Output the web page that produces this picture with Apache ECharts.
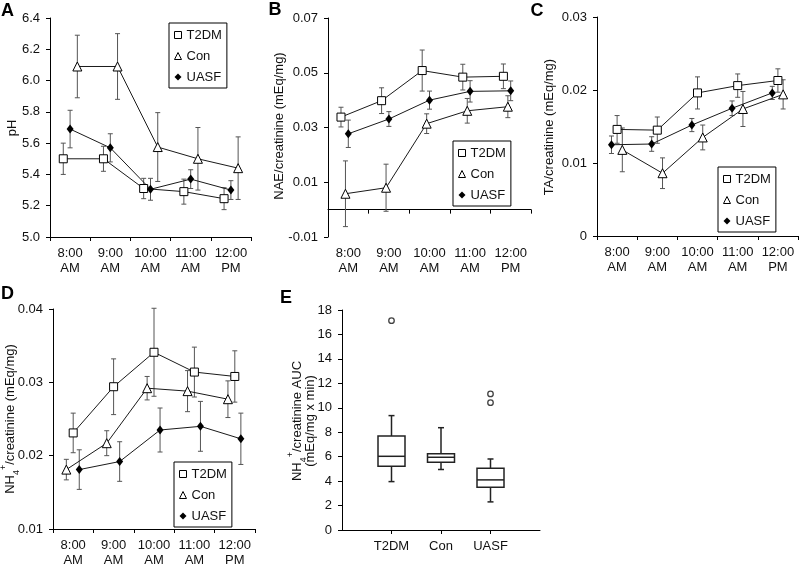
<!DOCTYPE html>
<html><head><meta charset="utf-8">
<script src="https://cdn.jsdelivr.net/npm/echarts@6/dist/echarts.min.js"></script>
<style>html,body{margin:0;padding:0;background:#fff}#c{width:799px;height:565px}</style>
</head><body><div id="c"></div>
<script>
// ---------- data ----------
const timeLabels = ['8:00\nAM', '9:00\nAM', '10:00\nAM', '11:00\nAM', '12:00\nPM'];
const groups = ['T2DM', 'Con', 'UASF'];

// A: urine pH (mean, SE)
const phT2DM = [5.50, 5.50, 5.31, 5.29, 5.245];
const phT2DMErr = [0.10, 0.08, 0.065, 0.08, 0.07];
const phCon = [6.09, 6.09, 5.575, 5.50, 5.44];
const phConErr = [0.20, 0.21, 0.22, 0.20, 0.20];
const phUASF = [5.69, 5.57, 5.305, 5.37, 5.30];
const phUASFErr = [0.12, 0.09, 0.07, 0.06, 0.06];

// B: NAE/creatinine
const naeT2DM = [0.0338, 0.0398, 0.0508, 0.0484, 0.0487];
const naeT2DMErr = [0.0036, 0.0047, 0.0075, 0.0047, 0.0045];
const naeCon = [0.0058, 0.0080, 0.0314, 0.0361, 0.0376];
const naeConErr = [0.0120, 0.0086, 0.0036, 0.0045, 0.0040];
const naeUASF = [0.0277, 0.0331, 0.0400, 0.0432, 0.0434];
const naeUASFErr = [0.0050, 0.0027, 0.0033, 0.0039, 0.0036];

// C: TA/creatinine
const taT2DM = [0.0146, 0.0145, 0.0196, 0.0206, 0.0213];
const taT2DMErr = [0.0019, 0.0018, 0.0022, 0.0016, 0.0016];
const taCon = [0.0118, 0.0086, 0.0135, 0.0174, 0.0194];
const taConErr = [0.0030, 0.0021, 0.0017, 0.0024, 0.0020];
const taUASF = [0.0125, 0.0126, 0.0152, 0.0175, 0.0196];
const taUASFErr = [0.0012, 0.0010, 0.0009, 0.0010, 0.0009];

// D: NH4+/creatinine
const nhT2DM = [0.0231, 0.0294, 0.0341, 0.0314, 0.0308];
const nhT2DMErr = [0.0027, 0.0038, 0.0060, 0.0034, 0.0035];
const nhCon = [0.0181, 0.0217, 0.0292, 0.0288, 0.0277];
const nhConErr = [0.0014, 0.0017, 0.0016, 0.0028, 0.0025];
const nhUASF = [0.0181, 0.0192, 0.0235, 0.0240, 0.0223];
const nhUASFErr = [0.0027, 0.0027, 0.0030, 0.0034, 0.0035];

// E: NH4+/creatinine AUC box plots [min, Q1, median, Q3, max]
const boxCategories = ['', 'T2DM', 'Con', 'UASF', ''];
const aucT2DM = [3.96, 5.21, 6.03, 7.69, 9.36];
const aucCon = [4.95, 5.54, 5.95, 6.24, 8.37];
const aucUASF = [2.30, 3.50, 4.10, 5.05, 5.81];
const aucT2DMOutliers = [17.13];
const aucConOutliers = [];
const aucUASFOutliers = [10.42, 11.13];

// ---------- styling ----------
const FONT = '"Liberation Sans", Arial, Helvetica, sans-serif';
const INK = '#111';
const groupStyle = {
  T2DM: { symbol: 'rect', size: 8, fill: '#fff', bw: 1 },
  Con: { symbol: 'triangle', size: 9, fill: '#fff', bw: 1 },
  UASF: { symbol: 'diamond', size: [7, 9], fill: '#000', bw: 0 }
};

const panels = [
  { vals: [phT2DM, phCon, phUASF], errs: [phT2DMErr, phConErr, phUASFErr],
    off: [-0.17, 0.18, 0], grid: { left: 50, top: 18, width: 201, height: 219 },
    y: { min: 5.0, max: 6.4, interval: 0.2, fmt: v => v.toFixed(1) }, onZero: false,
    legend: { left: 169, top: 23 } },
  { vals: [naeT2DM, naeCon, naeUASF], errs: [naeT2DMErr, naeConErr, naeUASFErr],
    off: [-0.18, -0.07, 0], grid: { left: 328, top: 18, width: 203, height: 219 },
    y: { min: -0.01, max: 0.07, interval: 0.02, fmt: v => v.toFixed(2) }, onZero: true,
    legend: { left: 453, top: 141 } },
  { vals: [taT2DM, taCon, taUASF], errs: [taT2DMErr, taConErr, taUASFErr],
    off: [0, 0.13, -0.14], grid: { left: 597, top: 17, width: 201, height: 219 },
    y: { min: 0, max: 0.03, interval: 0.01, fmt: v => (Math.abs(v) < 1e-9 ? '0' : v.toFixed(2)) }, onZero: false,
    legend: { left: 718, top: 167 } },
  { vals: [nhT2DM, nhCon, nhUASF], errs: [nhT2DMErr, nhConErr, nhUASFErr],
    off: [0, -0.17, 0.15], grid: { left: 53, top: 309, width: 202, height: 220 },
    y: { min: 0.01, max: 0.04, interval: 0.01, fmt: v => v.toFixed(2) }, onZero: false,
    legend: { left: 174, top: 462 } }
];

const axisLineStyle = { color: '#000', width: 1 };
const labelStyle = { color: INK, fontSize: 13, fontFamily: FONT };

function errRender(params, api) {
  const x = api.value(0), lo = api.value(1), hi = api.value(2);
  const p1 = api.coord([x, hi]), p2 = api.coord([x, lo]);
  const hw = 2.5;
  const st = { stroke: '#555', lineWidth: 1 };
  return { type: 'group', children: [
    { type: 'line', shape: { x1: p1[0], y1: p1[1], x2: p2[0], y2: p2[1] }, style: st },
    { type: 'line', shape: { x1: p1[0] - hw, y1: p1[1], x2: p1[0] + hw, y2: p1[1] }, style: st },
    { type: 'line', shape: { x1: p2[0] - hw, y1: p2[1], x2: p2[0] + hw, y2: p2[1] }, style: st }
  ] };
}

function boxRender(params, api) {
  const x = api.value(0);
  const p = [1, 2, 3, 4, 5].map(i => api.coord([x, api.value(i)]));
  const cx = p[0][0], hw = 13.5, cap = 3;
  const st = { stroke: '#222', lineWidth: 1.5 };
  return { type: 'group', children: [
    { type: 'line', shape: { x1: cx, y1: p[4][1], x2: cx, y2: p[3][1] }, style: st },
    { type: 'line', shape: { x1: cx, y1: p[1][1], x2: cx, y2: p[0][1] }, style: st },
    { type: 'line', shape: { x1: cx - cap, y1: p[4][1], x2: cx + cap, y2: p[4][1] }, style: st },
    { type: 'line', shape: { x1: cx - cap, y1: p[0][1], x2: cx + cap, y2: p[0][1] }, style: st },
    { type: 'rect', shape: { x: cx - hw, y: p[3][1], width: 2 * hw, height: p[1][1] - p[3][1] },
      style: { stroke: '#222', lineWidth: 1.5, fill: '#fff' } },
    { type: 'line', shape: { x1: cx - hw, y1: p[2][1], x2: cx + hw, y2: p[2][1] }, style: st }
  ] };
}

const grid = [], xAxis = [], yAxis = [], series = [], legend = [];

panels.forEach((P, k) => {
  grid.push(Object.assign({ outerBoundsMode: 'none', containLabel: false }, P.grid));
  xAxis.push({
    type: 'value', gridIndex: k, min: 0, max: 5, interval: 1, position: 'bottom',
    axisLine: { show: true, onZero: P.onZero, lineStyle: axisLineStyle },
    axisTick: { show: true, length: 4, lineStyle: axisLineStyle },
    axisLabel: { show: false }, splitLine: { show: false }
  });
  xAxis.push({
    type: 'category', gridIndex: k, data: timeLabels, position: 'bottom', boundaryGap: true,
    axisLine: { show: false, onZero: false }, axisTick: { show: false },
    axisLabel: Object.assign({ margin: 9, lineHeight: 15, interval: 0 }, labelStyle),
    splitLine: { show: false }
  });
  yAxis.push({
    type: 'value', gridIndex: k, min: P.y.min, max: P.y.max, interval: P.y.interval,
    axisLine: { show: true, onZero: false, lineStyle: axisLineStyle },
    axisTick: { show: true, length: 4, lineStyle: axisLineStyle },
    axisLabel: Object.assign({ margin: 10, formatter: P.y.fmt }, labelStyle),
    splitLine: { show: false }
  });
  groups.forEach((g, gi) => {
    const vals = P.vals[gi], errs = P.errs[gi], off = P.off[gi];
    series.push({
      type: 'custom', name: g + ' SE', xAxisIndex: 2 * k, yAxisIndex: k, z: 1,
      renderItem: errRender, encode: { x: 0, y: [1, 2] }, silent: true,
      data: vals.map((v, i) => [i + 0.5 + off, v - errs[i], v + errs[i]])
    });
  });
  groups.forEach((g, gi) => {
    const vals = P.vals[gi], off = P.off[gi], s = groupStyle[g];
    series.push({
      type: 'line', name: g, xAxisIndex: 2 * k, yAxisIndex: k, z: 3,
      symbol: s.symbol, symbolSize: s.size, showAllSymbol: true,
      lineStyle: { color: '#1a1a1a', width: 1 },
      itemStyle: { color: s.fill, borderColor: '#000', borderWidth: s.bw },
      emphasis: { disabled: true }, animation: false,
      data: vals.map((v, i) => [i + 0.5 + off, v])
    });
  });
  legend.push({
    left: P.legend.left, top: P.legend.top, orient: 'vertical',
    data: groups.map(g => ({ name: g, icon: groupStyle[g].symbol,
      itemStyle: { color: groupStyle[g].fill, borderColor: '#000', borderWidth: groupStyle[g].bw } })),
    itemWidth: 7, itemHeight: 7, itemGap: 7, padding: [5, 5, 4, 5],
    borderColor: '#000', borderWidth: 1, backgroundColor: '#fff', borderRadius: 0,
    selectedMode: false,
    textStyle: { fontSize: 13, fontFamily: FONT, color: INK, lineHeight: 14 }
  });
});

// Panel E
grid.push({ left: 342, top: 310, width: 198, height: 220, outerBoundsMode: 'none', containLabel: false });
xAxis.push({
  type: 'category', gridIndex: 4, data: boxCategories, boundaryGap: false, position: 'bottom',
  axisLine: { show: true, onZero: false, lineStyle: axisLineStyle },
  axisTick: { show: true, length: 4, interval: (i) => i >= 1 && i <= 3, lineStyle: axisLineStyle },
  axisLabel: Object.assign({ margin: 10, interval: 0 }, labelStyle),
  splitLine: { show: false }
});
yAxis.push({
  type: 'value', gridIndex: 4, min: 0, max: 18, interval: 2,
  axisLine: { show: true, onZero: false, lineStyle: axisLineStyle },
  axisTick: { show: true, length: 4, lineStyle: axisLineStyle },
  axisLabel: Object.assign({ margin: 10 }, labelStyle),
  splitLine: { show: false }
});
const boxSets = [aucT2DM, aucCon, aucUASF];
series.push({
  type: 'custom', name: 'AUC', xAxisIndex: 8, yAxisIndex: 4, z: 2, silent: true,
  renderItem: boxRender, encode: { x: 0, y: [1, 2, 3, 4, 5] },
  data: boxSets.map((b, i) => [i + 1].concat(b))
});
const outlierSets = [aucT2DMOutliers, aucConOutliers, aucUASFOutliers];
const outlierData = [];
outlierSets.forEach((arr, i) => arr.forEach(v => outlierData.push([i + 1, v])));
series.push({
  type: 'scatter', name: 'Outliers', xAxisIndex: 8, yAxisIndex: 4, z: 3,
  symbol: 'circle', symbolSize: 5.5, silent: true,
  itemStyle: { color: '#fff', borderColor: '#111', borderWidth: 1.3 },
  data: outlierData
});

// ---------- titles & panel letters ----------
const titleFont = { fontSize: 13, fontFamily: FONT, fill: INK };
const rich = {
  n: { fontSize: 13, fontFamily: FONT, fill: INK, lineHeight: 16 },
  sub: { fontSize: 9, fontFamily: FONT, fill: INK, verticalAlign: 'bottom', lineHeight: 10, padding: [0, 0, -3, 0] },
  sup: { fontSize: 9, fontFamily: FONT, fill: INK, verticalAlign: 'top', lineHeight: 10, padding: [-3, 0, 0, 0] }
};
function vtext(x, y, text, useRich) {
  return { type: 'text', x: x, y: y, rotation: Math.PI / 2, silent: true,
    style: Object.assign({ text: text, align: 'center', verticalAlign: 'middle' }, titleFont, useRich ? { rich: rich } : {}) };
}
function letter(x, y, t) {
  return { type: 'text', x: x, y: y, silent: true,
    style: { text: t, align: 'center', verticalAlign: 'middle', fontSize: 18, fontWeight: 'bold', fontFamily: FONT, fill: '#000' } };
}
const graphic = [
  letter(7.5, 11, 'A'), letter(275, 10, 'B'), letter(537, 11, 'C'), letter(7.5, 294, 'D'), letter(286, 298, 'E'),
  vtext(12, 128, 'pH'),
  vtext(279, 126, 'NAE/creatinine (mEq/mg)'),
  vtext(549, 127, 'TA/creatinine (mEq/mg)'),
  vtext(10, 419, '{n|NH}{sub|4}{sup|+}{n|/creatinine (mEq/mg)}', true),
  vtext(297, 421, '{n|NH}{sub|4}{sup|+}{n|/creatinine AUC}', true),
  vtext(310, 421, '(mEq/mg x min)')
];

const chart = echarts.init(document.getElementById('c'), null, { renderer: 'canvas' });
chart.setOption({
  animation: false,
  backgroundColor: '#fff',
  textStyle: { fontFamily: FONT },
  grid: grid, xAxis: xAxis, yAxis: yAxis, legend: legend, series: series, graphic: graphic
});
</script>
</body></html>
